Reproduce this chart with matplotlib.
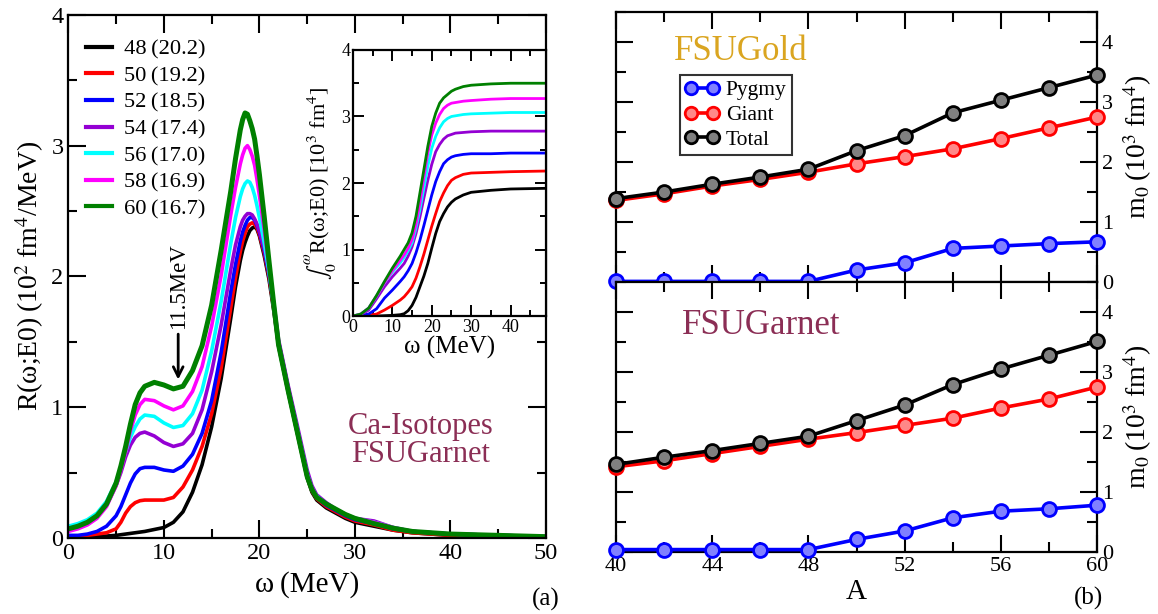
import numpy as np
import matplotlib.pyplot as plt
from matplotlib.ticker import MultipleLocator
from matplotlib.lines import Line2D

plt.rcParams['font.family'] = ['Liberation Serif', 'DejaVu Serif']
plt.rcParams['mathtext.fontset'] = 'stix'

# ---- panel (a): strength function R(w;E0) ----
omega = [0, 1, 2, 3, 4, 5, 5.5, 6, 6.5, 7, 7.5, 8, 9, 10, 11, 12, 13, 14, 15, 16, 17,
         17.5, 18, 18.25, 18.5, 18.75, 19, 19.25, 19.5, 19.75, 20, 20.5, 21, 21.5, 22,
         23, 24, 25, 25.5, 26, 27, 28, 29, 30, 32, 34, 36, 40, 45, 50]

r_48 = [0, 0.003, 0.005, 0.01, 0.015, 0.02, 0.025, 0.03, 0.035, 0.04, 0.045, 0.05,
        0.065, 0.08, 0.12, 0.20, 0.35, 0.56, 0.85, 1.22, 1.68,
        1.92, 2.12, 2.20, 2.26, 2.31, 2.35, 2.37, 2.38, 2.36, 2.31, 2.16, 1.98, 1.74, 1.47,
        1.12, 0.79, 0.46, 0.35, 0.29, 0.23, 0.19, 0.15, 0.12, 0.09, 0.06, 0.04, 0.02, 0.01, 0.005]
r_50 = [0.01, 0.01, 0.02, 0.03, 0.04, 0.07, 0.12, 0.19, 0.24, 0.27, 0.285, 0.29,
        0.29, 0.29, 0.31, 0.39, 0.52, 0.70, 0.95, 1.30, 1.76,
        1.99, 2.19, 2.27, 2.33, 2.38, 2.40, 2.41, 2.40, 2.37, 2.32, 2.18, 2.00, 1.76, 1.48,
        1.13, 0.80, 0.47, 0.36, 0.30, 0.24, 0.20, 0.16, 0.13, 0.10, 0.06, 0.04, 0.02, 0.01, 0.005]
r_52 = [0.02, 0.02, 0.03, 0.05, 0.09, 0.17, 0.24, 0.33, 0.42, 0.49, 0.53, 0.54,
        0.54, 0.52, 0.51, 0.55, 0.64, 0.80, 1.05, 1.42, 1.88,
        2.09, 2.27, 2.34, 2.39, 2.43, 2.45, 2.45, 2.43, 2.39, 2.34, 2.20, 2.02, 1.78, 1.50,
        1.15, 0.82, 0.49, 0.38, 0.31, 0.25, 0.21, 0.17, 0.14, 0.11, 0.07, 0.05, 0.03, 0.02, 0.01]
r_54 = [0.06, 0.08, 0.11, 0.16, 0.25, 0.40, 0.50, 0.62, 0.71, 0.77, 0.80, 0.81,
        0.78, 0.73, 0.70, 0.72, 0.80, 0.98, 1.27, 1.63, 2.05,
        2.24, 2.38, 2.43, 2.46, 2.48, 2.48, 2.47, 2.44, 2.40, 2.35, 2.22, 2.04, 1.80, 1.52,
        1.17, 0.85, 0.52, 0.40, 0.33, 0.27, 0.22, 0.18, 0.15, 0.13, 0.08, 0.05, 0.03, 0.02, 0.01]
r_56 = [0.09, 0.11, 0.14, 0.19, 0.28, 0.43, 0.54, 0.66, 0.77, 0.85, 0.91, 0.94,
        0.93, 0.88, 0.845, 0.86, 0.95, 1.13, 1.43, 1.81, 2.25,
        2.45, 2.61, 2.67, 2.71, 2.73, 2.72, 2.68, 2.62, 2.54, 2.45, 2.26, 2.04, 1.77, 1.49,
        1.14, 0.82, 0.49, 0.38, 0.32, 0.26, 0.22, 0.18, 0.15, 0.12, 0.08, 0.05, 0.03, 0.02, 0.01]
r_58 = [0.05, 0.07, 0.10, 0.15, 0.24, 0.40, 0.52, 0.66, 0.82, 0.94, 1.02, 1.06,
        1.05, 1.01, 0.98, 1.01, 1.12, 1.31, 1.62, 2.01, 2.47,
        2.68, 2.86, 2.93, 2.98, 3.00, 2.97, 2.92, 2.85, 2.74, 2.62, 2.36, 2.08, 1.78, 1.48,
        1.13, 0.81, 0.48, 0.38, 0.31, 0.26, 0.22, 0.18, 0.15, 0.12, 0.08, 0.05, 0.03, 0.02, 0.01]
r_60 = [0.07, 0.09, 0.12, 0.17, 0.26, 0.42, 0.55, 0.70, 0.87, 1.02, 1.11, 1.16,
        1.19, 1.17, 1.14, 1.16, 1.28, 1.47, 1.78, 2.20, 2.65,
        2.90, 3.12, 3.20, 3.25, 3.24, 3.19, 3.13, 3.05, 2.92, 2.78, 2.46, 2.12, 1.79, 1.48,
        1.13, 0.80, 0.47, 0.37, 0.31, 0.26, 0.22, 0.18, 0.15, 0.11, 0.075, 0.05, 0.03, 0.02, 0.01]

# inset: running integral of R
omega_int = [0, 2, 4, 6, 8, 10, 12, 13, 14, 15, 16, 17, 18, 19, 20, 21, 22, 23, 24,
             25, 26, 28, 30, 35, 40, 49]
i_48 = [0, 0, 0, 0, 0.005, 0.01, 0.02, 0.035, 0.08, 0.16, 0.28, 0.44, 0.6, 0.79, 1.02,
        1.24, 1.42, 1.54, 1.64, 1.71, 1.76, 1.82, 1.86, 1.89, 1.91, 1.92]
i_50 = [0, 0, 0.01, 0.03, 0.09, 0.16, 0.24, 0.29, 0.36, 0.44, 0.57, 0.74, 0.93, 1.14,
        1.35, 1.54, 1.72, 1.85, 1.96, 2.04, 2.08, 2.13, 2.15, 2.16, 2.17, 2.18]
i_52 = [0, 0.01, 0.03, 0.11, 0.27, 0.39, 0.52, 0.59, 0.68, 0.79, 0.95, 1.14, 1.36, 1.59,
        1.82, 2.02, 2.17, 2.29, 2.35, 2.39, 2.41, 2.43, 2.44, 2.44, 2.45, 2.45]
i_54 = [0, 0.02, 0.09, 0.26, 0.44, 0.59, 0.72, 0.79, 0.9, 1.04, 1.24, 1.49, 1.77, 2.04,
        2.28, 2.47, 2.58, 2.66, 2.71, 2.73, 2.75, 2.76, 2.77, 2.78, 2.78, 2.78]
i_56 = [0, 0.03, 0.12, 0.30, 0.50, 0.66, 0.8, 0.88, 0.98, 1.1, 1.32, 1.6, 1.92, 2.25,
        2.52, 2.7, 2.83, 2.92, 2.97, 3.0, 3.01, 3.03, 3.04, 3.05, 3.06, 3.06]
i_58 = [0, 0.03, 0.12, 0.3, 0.5, 0.68, 0.84, 0.92, 1.02, 1.15, 1.38, 1.7, 2.08, 2.45,
        2.72, 2.9, 3.03, 3.12, 3.17, 3.2, 3.21, 3.23, 3.24, 3.26, 3.27, 3.27]
i_60 = [0, 0.03, 0.12, 0.31, 0.52, 0.72, 0.9, 1.0, 1.1, 1.25, 1.5, 1.85, 2.2, 2.55,
        2.85, 3.05, 3.2, 3.28, 3.33, 3.38, 3.41, 3.45, 3.47, 3.49, 3.5, 3.5]

isotope_labels = ['48\u2009(20.2)', '50\u2009(19.2)', '52\u2009(18.5)', '54\u2009(17.4)',
                  '56\u2009(17.0)', '58\u2009(16.9)', '60\u2009(16.7)']
curve_colors = ['black', 'red', 'blue', '#9400d3', 'cyan', 'magenta', 'green']

# ---- panel (b): sum rules m0 vs mass number ----
mass_number = [40, 42, 44, 46, 48, 50, 52, 54, 56, 58, 60]
gold_pygmy = [0.01, 0.01, 0.01, 0.01, 0.01, 0.20, 0.32, 0.56, 0.60, 0.64, 0.67]
gold_giant = [1.36, 1.47, 1.60, 1.71, 1.83, 1.97, 2.09, 2.22, 2.39, 2.57, 2.75]
gold_total = [1.39, 1.50, 1.63, 1.75, 1.88, 2.19, 2.44, 2.82, 3.03, 3.24, 3.45]
garnet_pygmy = [0.04, 0.04, 0.04, 0.04, 0.04, 0.21, 0.35, 0.57, 0.68, 0.72, 0.78]
garnet_giant = [1.42, 1.52, 1.64, 1.76, 1.88, 1.99, 2.11, 2.23, 2.40, 2.55, 2.75]
garnet_total = [1.46, 1.58, 1.69, 1.81, 1.93, 2.19, 2.45, 2.79, 3.05, 3.28, 3.51]

garnet_col = '#8b2e55'
gold_col = '#daa520'

fig = plt.figure(figsize=(11.58, 6.14), dpi=100)

# main panel (a)
ax = fig.add_axes([0.059, 0.1238, 0.4125, 0.852])
all_r = [r_48, r_50, r_52, r_54, r_56, r_58, r_60]
for r, c, lab in zip(all_r, curve_colors, isotope_labels):
    lw = 3.6 if c == 'green' else 2.6
    ax.plot(omega, r, color=c, lw=lw, label=lab, solid_joinstyle='round')
ax.set_xlim(0, 50)
ax.set_ylim(0, 4)
ax.xaxis.set_major_locator(MultipleLocator(10))
ax.xaxis.set_minor_locator(MultipleLocator(5))
ax.yaxis.set_major_locator(MultipleLocator(1))
ax.yaxis.set_minor_locator(MultipleLocator(0.5))
ax.tick_params(which='both', direction='in', top=True, right=True, width=1.5, labelsize=17.5)
ax.tick_params(which='major', length=13)
ax.tick_params(which='minor', length=6.5)
for s in ax.spines.values():
    s.set_linewidth(1.6)
ax.set_xlabel('ω\u2009(MeV)', fontsize=21, labelpad=5)
ax.set_ylabel('R(ω;E0)\u2009(10$^2$\u2009fm$^4$/MeV)', fontsize=20, labelpad=4)

leg = ax.legend(loc='upper left', bbox_to_anchor=(0.037, 0.954), frameon=False,
                fontsize=16.2, handlelength=1.15, handletextpad=0.55,
                labelspacing=0.26, borderpad=0, borderaxespad=0)
for h in leg.get_lines():
    h.set_linewidth(3)

ax.annotate('', xy=(11.5, 1.19), xytext=(11.5, 1.58),
            arrowprops=dict(arrowstyle='->,head_length=0.7,head_width=0.35', lw=2, color='black'))
ax.text(11.5, 1.6, '11.5MeV', rotation=90, ha='center', va='bottom', fontsize=16.5)
ax.text(36.9, 0.745, 'Ca-Isotopes\nFSUGarnet', color=garnet_col, fontsize=22,
        ha='center', va='center', linespacing=0.95)

# inset
axi = fig.add_axes([0.3048, 0.4853, 0.1667, 0.4333])
for r, c in zip([i_48, i_50, i_52, i_54, i_56, i_58, i_60], curve_colors):
    axi.plot(omega_int, r, color=c, lw=2)
axi.set_xlim(0, 49)
axi.set_ylim(0, 4)
axi.xaxis.set_major_locator(MultipleLocator(10))
axi.xaxis.set_minor_locator(MultipleLocator(5))
axi.yaxis.set_major_locator(MultipleLocator(1))
axi.yaxis.set_minor_locator(MultipleLocator(0.5))
axi.tick_params(which='both', direction='in', top=True, right=True, width=1.4, labelsize=13, pad=2)
axi.tick_params(which='major', length=8)
axi.tick_params(which='minor', length=4)
for s in axi.spines.values():
    s.set_linewidth(1.6)
axi.set_xlabel('ω (MeV)', fontsize=18, labelpad=0)
axi.set_ylabel(r'$\int_0^\omega$R(ω;E0) [10$^3$ fm$^4$]', fontsize=16, labelpad=2)

fig.text(0.471, 0.023, '(a)', fontsize=18, ha='center', va='center')

# panel (b)
axT = fig.add_axes([0.532, 0.5407, 0.4154, 0.4397])
axB = fig.add_axes([0.532, 0.101, 0.4154, 0.4397])
series = [
    (axT, gold_pygmy, gold_giant, gold_total),
    (axB, garnet_pygmy, garnet_giant, garnet_total),
]
styles = [('blue', '#8080ff', 'Pygmy'), ('red', '#ff8888', 'Giant'), ('black', '#808080', 'Total')]
for a, pyg, gia, tot in series:
    for vals, (c, fc, lab) in zip([pyg, gia, tot], styles):
        a.plot(mass_number, vals, color=c, lw=2.6, marker='o', ms=10,
               mfc=fc, mec=c, mew=2, label=lab, clip_on=False, zorder=3)
    a.set_xlim(40, 60)
    a.set_ylim(0, 4.5)
    a.xaxis.set_major_locator(MultipleLocator(4))
    a.xaxis.set_minor_locator(MultipleLocator(2))
    a.yaxis.set_major_locator(MultipleLocator(1))
    a.yaxis.set_minor_locator(MultipleLocator(0.5))
    a.tick_params(which='both', direction='in', top=True, right=True, left=True,
                  labelleft=False, labelright=True, width=1.5, labelsize=16)
    a.tick_params(which='major', length=12)
    a.tick_params(which='minor', length=7)
    for s in a.spines.values():
        s.set_linewidth(1.6)
    a.yaxis.set_label_position('right')
    a.set_ylabel('m$_0$\u2009(10$^3$\u2009fm$^4$)', fontsize=20, labelpad=6)

axT.tick_params(labelbottom=False)
axB.set_xlabel('A', fontsize=21, labelpad=2)
axT.text(45.2, 3.85, 'FSUGold', color=gold_col, fontsize=25, ha='center', va='center')
axB.text(46.05, 3.78, 'FSUGarnet', color=garnet_col, fontsize=25, ha='center', va='center')

handles = [Line2D([], [], color=c, lw=2.6, marker='o', ms=9, mfc=fc, mec=c, mew=2)
           for c, fc, lab in styles]
lg = axT.legend(handles, [s[2] for s in styles], loc='upper left',
                bbox_to_anchor=(0.132, 0.767), borderaxespad=0, numpoints=2,
                fontsize=15.5, handlelength=1.6, handletextpad=0.3, labelspacing=0.22,
                borderpad=0.25, fancybox=False, edgecolor='black')
lg.get_frame().set_linewidth(1.5)

fig.text(0.94, 0.026, '(b)', fontsize=18, ha='center', va='center')

fig.savefig('out.png', dpi=100)
